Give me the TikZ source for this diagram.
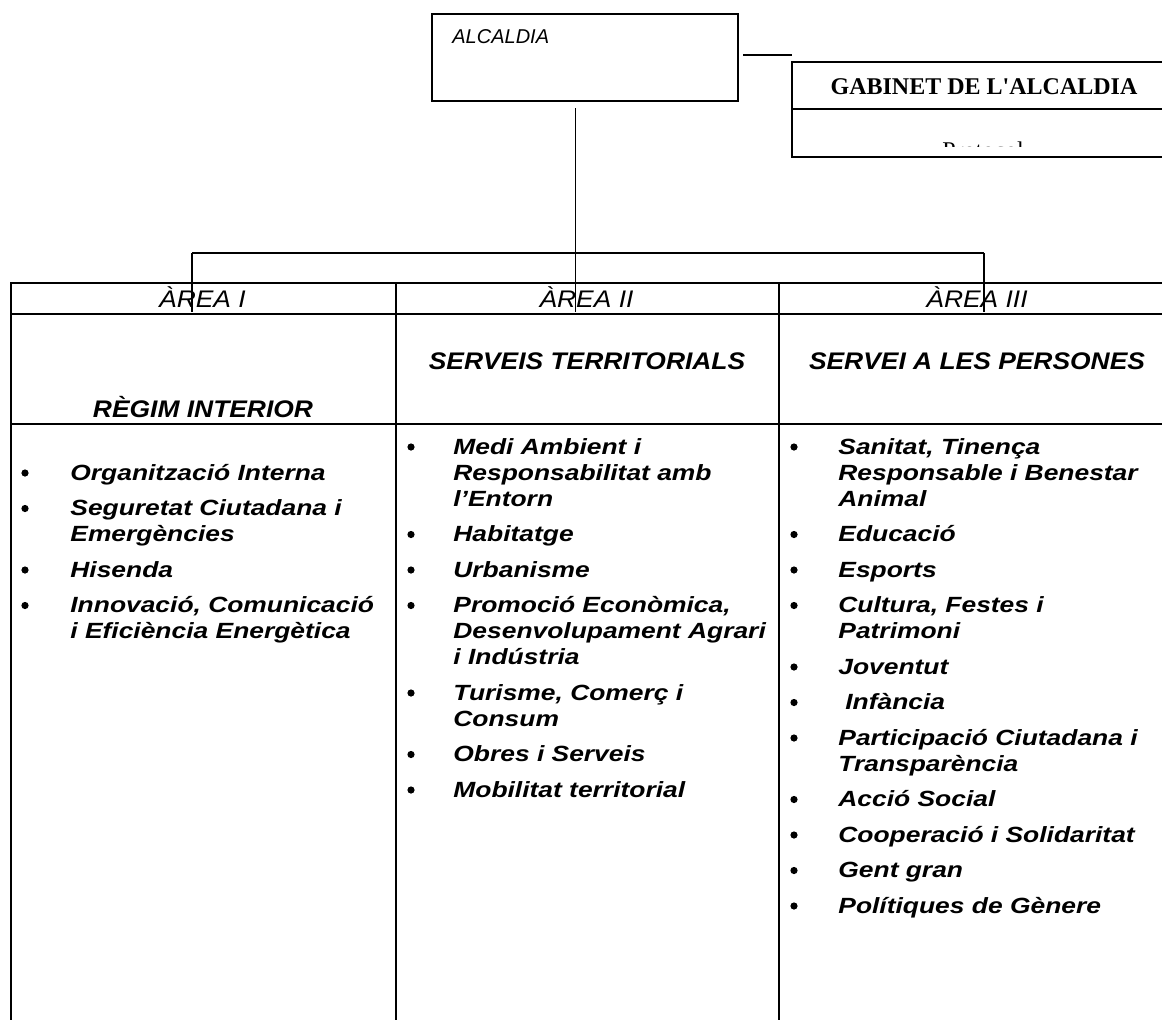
\documentclass[tikz,border=0pt]{standalone}
\usepackage{fontspec}
\setmainfont{Liberation Sans}
\newfontfamily\hdrfont{Liberation Sans}[FakeStretch=1.1]
\newfontfamily\itmfont{Liberation Sans}[FakeStretch=1.2]
\newfontfamily\gabfont{Liberation Serif}
\newcommand\itline[4]{\node[itm] (#1) at (#2,#3) {#4};}
\newcommand\itbul[3]{\node[bul] (#1) at (#2,#3-7) {};}
\begin{document}
\begin{tikzpicture}[x=0.5pt,y=-0.5pt,
  boxst/.style={draw, line width=1pt, inner sep=0pt, anchor=north west},
  conn/.style={line width=0.75pt},
  area/.style={font=\hdrfont\itshape\fontsize{12}{14}\selectfont, inner sep=0pt, anchor=base},
  ttl/.style={font=\hdrfont\bfseries\itshape\fontsize{12}{14}\selectfont, inner sep=0pt, anchor=base},
  itm/.style={font=\itmfont\bfseries\itshape\fontsize{11}{13}\selectfont, inner sep=0pt, anchor=base west},
  bul/.style={circle, fill=black, inner sep=0pt, minimum size=3.6pt}]
\useasboundingbox (0,0) rectangle (1162,1019);
\clip (0,0) rectangle (1162,1019);

% ALCALDIA box
\node[boxst, minimum width=153pt, minimum height=43.5pt] (alc) at (431,13) {};
\node[font=\itshape\fontsize{10}{12}\selectfont, inner sep=0pt, anchor=base west] (alct) at (452,43) {ALCALDIA};

% GABINET box
\node[boxst, minimum width=193pt, minimum height=47.5pt] (gab) at (791,61) {};
\coordinate (gdl) at (791,109);
\coordinate (gdr) at (1177,109);
\draw[line width=1pt] (gdl) -- (gdr);
\node[font=\gabfont\bfseries\fontsize{12}{14}\selectfont, inner sep=0pt, anchor=base] (gabt) at (984,94) {GABINET DE L'ALCALDIA};
\begin{scope}
\clip (792,110) rectangle (1177,146.5);
\node[font=\gabfont\fontsize{12}{14}\selectfont, inner sep=0pt, anchor=base] (prot) at (983,158) {Protocol};
\end{scope}

% connector ALCALDIA - GABINET
\coordinate (g0) at (743,55);
\coordinate (g1) at (792,55);
\draw[conn] (g0) -- (g1);

% table cells
\node[boxst, minimum width=192.5pt, minimum height=15.5pt] (h1) at (10,282) {};
\node[boxst, minimum width=191.5pt, minimum height=15.5pt] (h2) at (395,282) {};
\node[boxst, minimum width=199pt, minimum height=15.5pt] (h3) at (778,282) {};
\node[boxst, minimum width=192.5pt, minimum height=55pt] (t1) at (10,313) {};
\node[boxst, minimum width=191.5pt, minimum height=55pt] (t2) at (395,313) {};
\node[boxst, minimum width=199pt, minimum height=55pt] (t3) at (778,313) {};
\node[boxst, minimum width=192.5pt, minimum height=308.5pt] (l1) at (10,423) {};
\node[boxst, minimum width=191.5pt, minimum height=308.5pt] (l2) at (395,423) {};
\node[boxst, minimum width=199pt, minimum height=308.5pt] (l3) at (778,423) {};

% connectors
\coordinate (a0) at (575.5,108);
\coordinate (j1) at (192,253);
\coordinate (j2) at (575.5,253);
\coordinate (j3) at (984,253);
\draw[conn] (a0) -- (j2);
\draw[conn] (j1) -- (j3);
\draw[conn, shorten >=1.5pt] (j1) -- (j1 |- h1.south);
\draw[conn, shorten >=1.5pt] (j2) -- (j2 |- h2.south);
\draw[conn, shorten >=1.5pt] (j3) -- (j3 |- h3.south);

% header texts
\node[area] (ar1) at (202.5,307) {ÀREA I};
\node[area] (ar2) at (586.5,307) {ÀREA II};
\node[area] (ar3) at (977,307) {ÀREA III};
\node[ttl] (tt1) at (203,417) {RÈGIM INTERIOR};
\node[ttl] (tt2) at (587,369) {SERVEIS TERRITORIALS};
\node[ttl] (tt3) at (977,369) {SERVEI A LES PERSONES};

% column 1
\itbul{b11}{25}{480}\itline{i11}{70}{480}{Organització Interna}
\itbul{b12}{25}{515.5}\itline{i12}{70}{515.5}{Seguretat Ciutadana i}
\itline{i12b}{70}{541.5}{Emergències}
\itbul{b13}{25}{577}\itline{i13}{70}{577}{Hisenda}
\itbul{b14}{25}{612.5}\itline{i14}{70}{612.5}{Innovació, Comunicació}
\itline{i14b}{70}{638.5}{i Eficiència Energètica}

% column 2
\itbul{b21}{411}{454}\itline{i21}{453}{454}{Medi Ambient i}
\itline{i21b}{453}{480}{Responsabilitat amb}
\itline{i21c}{453}{506}{l’Entorn}
\itbul{b22}{411}{541.5}\itline{i22}{453}{541.5}{Habitatge}
\itbul{b23}{411}{577}\itline{i23}{453}{577}{Urbanisme}
\itbul{b24}{411}{612.5}\itline{i24}{453}{612.5}{Promoció Econòmica,}
\itline{i24b}{453}{638.5}{Desenvolupament Agrari}
\itline{i24c}{453}{664.5}{i Indústria}
\itbul{b25}{411}{700}\itline{i25}{453}{700}{Turisme, Comerç i}
\itline{i25b}{453}{726}{Consum}
\itbul{b26}{411}{761.5}\itline{i26}{453}{761.5}{Obres i Serveis}
\itbul{b27}{411}{797}\itline{i27}{453}{797}{Mobilitat territorial}

% column 3
\itbul{b31}{794}{454}\itline{i31}{838}{454}{Sanitat, Tinença}
\itline{i31b}{838}{480}{Responsable i Benestar}
\itline{i31c}{838}{506}{Animal}
\itbul{b32}{794}{541.5}\itline{i32}{838}{541.5}{Educació}
\itbul{b33}{794}{577}\itline{i33}{838}{577}{Esports}
\itbul{b34}{794}{612.5}\itline{i34}{838}{612.5}{Cultura, Festes i}
\itline{i34b}{838}{638.5}{Patrimoni}
\itbul{b35}{794}{674}\itline{i35}{838}{674}{Joventut}
\itbul{b36}{794}{709.5}\itline{i36}{845}{709.5}{Infància}
\itbul{b37}{794}{745}\itline{i37}{838}{745}{Participació Ciutadana i}
\itline{i37b}{838}{771}{Transparència}
\itbul{b38}{794}{806.5}\itline{i38}{838}{806.5}{Acció Social}
\itbul{b39}{794}{842}\itline{i39}{838}{842}{Cooperació i Solidaritat}
\itbul{b310}{794}{877.5}\itline{i310}{838}{877.5}{Gent gran}
\itbul{b311}{794}{913}\itline{i311}{838}{913}{Polítiques de Gènere}
\end{tikzpicture}
\end{document}
